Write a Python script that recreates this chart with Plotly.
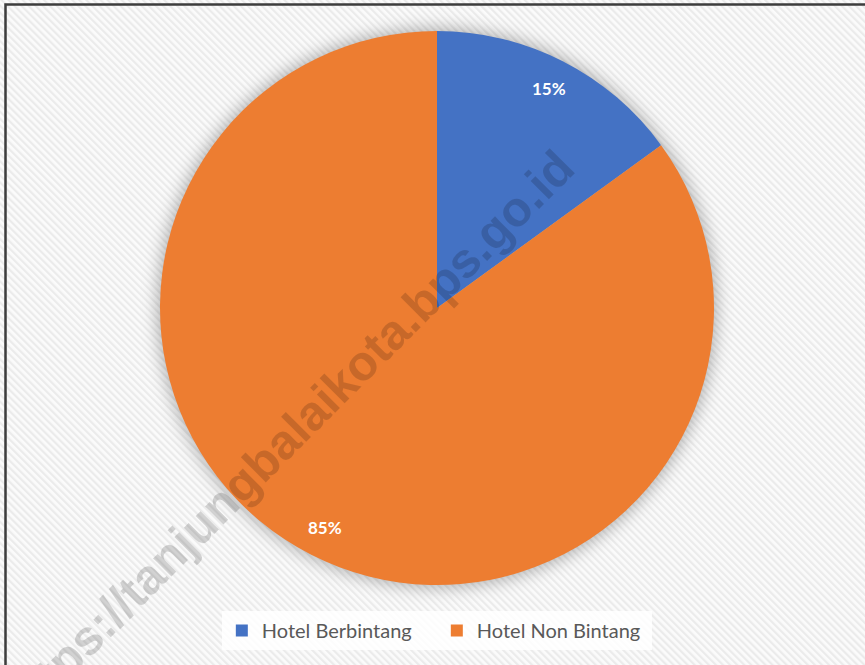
import math
import base64
import plotly.graph_objects as go

# ---- data ----
categories = ["Hotel Berbintang", "Hotel Non Bintang"]
shares = [15, 85]
colors = ["#4472C4", "#ED7D31"]
watermark = "https://tanjungbalaikota.bps.go.id"

W, H = 865, 665
# pie domain in pixels (center and radius)
cx, cy, R = 437, 308, 277
dom_x = [(cx - R) / W, (cx + R) / W]
dom_y = [1 - (cy + R) / H, 1 - (cy - R) / H]

# ---- background: hatch, shadow, frame (SVG image) ----
svg = f'''<svg xmlns="http://www.w3.org/2000/svg" width="{W}" height="{H}" viewBox="0 0 {W} {H}">
<defs>
<pattern id="h" width="5" height="5" patternUnits="userSpaceOnUse" patternTransform="rotate(-45)">
<rect width="5" height="5" fill="#fbfbfb"/>
<rect width="2.2" height="5" fill="#ebebeb"/>
</pattern>
<filter id="b" x="-20%" y="-20%" width="140%" height="140%"><feGaussianBlur stdDeviation="8"/></filter>
</defs>
<rect width="{W}" height="{H}" fill="url(#h)"/>
<circle cx="{cx}" cy="{cy}" r="{R+3}" fill="#000" fill-opacity="0.28" filter="url(#b)"/>
<rect x="5.5" y="4.5" width="{W+20}" height="{H+20}" fill="none" stroke="#3d3d3d" stroke-width="2.5"/>
</svg>'''
svg_uri = "data:image/svg+xml;base64," + base64.b64encode(svg.encode()).decode()

fig = go.Figure()
fig.add_trace(go.Pie(
    labels=categories,
    values=shares,
    marker=dict(colors=colors, line=dict(width=0)),
    sort=False,
    direction="clockwise",
    rotation=0,
    textinfo="none",
    hoverinfo="label+percent",
    domain=dict(x=dom_x, y=dom_y),
))

# percentage labels placed at mid-angle of each slice
total = sum(shares)
annotations = []
cum = 0
for v in shares:
    mid = (cum + v / 2) / total * 2 * math.pi
    cum += v
    rr = 0.89 * R
    px = cx + rr * math.sin(mid)
    py = cy - rr * math.cos(mid)
    annotations.append(dict(
        x=px / W, y=1 - py / H, xref="paper", yref="paper",
        xanchor="center", yanchor="middle",
        text=f"<b>{round(v / total * 100)}%</b>", showarrow=False,
        font=dict(family="Lato, Open Sans, sans-serif", size=17, color="white"),
    ))

annotations.append(dict(
    x=288 / W, y=1 - 436 / H, xref="paper", yref="paper",
    xanchor="center", yanchor="middle",
    text=f"<b>{watermark}</b>", showarrow=False, textangle=-45,
    font=dict(family="Liberation Sans, Arial, sans-serif", size=49, weight="bold",
              color="rgba(0,0,0,0.16)"),
))

fig.update_layout(
    width=W, height=H,
    margin=dict(l=0, r=0, t=0, b=0),
    paper_bgcolor="white",
    plot_bgcolor="white",
    images=[dict(source=svg_uri, xref="paper", yref="paper", x=0, y=1,
                 sizex=1, sizey=1, sizing="stretch", layer="below", xanchor="left", yanchor="top")],
    showlegend=True,
    legend=dict(
        orientation="h", x=0.505, xanchor="center", y=1 - 611 / H, yanchor="top",
        bgcolor="rgba(255,255,255,0.85)",
        font=dict(family="Lato, Open Sans, sans-serif", size=20, color="#595959"),
        itemwidth=30, entrywidth=170, entrywidthmode="pixels",
        tracegroupgap=0,
    ),
    annotations=annotations,
)

fig.write_html("out.html", post_script="document.body.style.margin='0';",
               config={"displayModeBar": False})
